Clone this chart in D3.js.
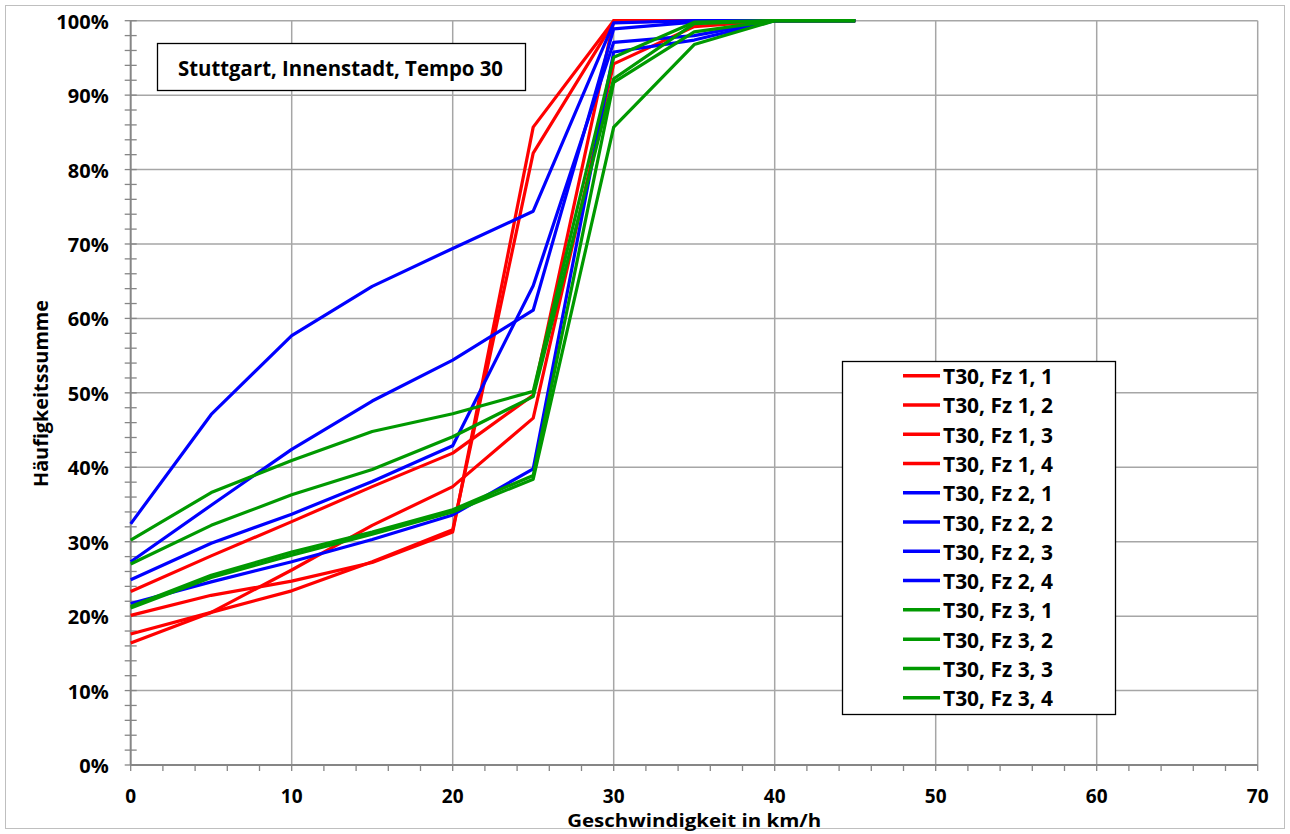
<!DOCTYPE html>
<html><head><meta charset="utf-8">
<script src="https://cdn.jsdelivr.net/npm/d3@7"></script>
<style>body{margin:0;background:#fff}svg{display:block}</style>
</head><body>
<script>
const speeds = [0, 5, 10, 15, 20, 25, 30, 35, 40, 45];
const seriesNames = ["T30, Fz 1, 1","T30, Fz 1, 2","T30, Fz 1, 3","T30, Fz 1, 4",
  "T30, Fz 2, 1","T30, Fz 2, 2","T30, Fz 2, 3","T30, Fz 2, 4",
  "T30, Fz 3, 1","T30, Fz 3, 2","T30, Fz 3, 3","T30, Fz 3, 4"];
const seriesColors = ["#ff0000","#ff0000","#ff0000","#ff0000","#0000ff","#0000ff","#0000ff","#0000ff","#009900","#009900","#009900","#009900"];
const fz1_1 = [23.3, 28.1, 32.7, 37.4, 41.9, 49.7, 100, 100, 100, 100];
const fz1_2 = [20.1, 22.8, 24.7, 27.2, 31.3, 85.7, 100, 100, 100, 100];
const fz1_3 = [17.6, 20.5, 26.2, 32.2, 37.4, 46.6, 94.2, 99.2, 100, 100];
const fz1_4 = [16.4, 20.5, 23.4, 27.3, 31.6, 82.2, 99.8, 100, 100, 100];
const fz2_1 = [32.4, 47.1, 57.7, 64.3, 69.4, 74.4, 99.7, 100, 100, 100];
const fz2_2 = [27.3, 34.9, 42.4, 48.9, 54.4, 61.1, 98.9, 99.8, 100, 100];
const fz2_3 = [24.9, 29.8, 33.7, 38.1, 42.9, 64.4, 97.1, 98.0, 100, 100];
const fz2_4 = [21.7, 24.6, 27.3, 30.3, 33.6, 39.8, 95.8, 97.4, 100, 100];
const fz3_1 = [30.2, 36.6, 40.9, 44.8, 47.2, 50.2, 95.1, 99.8, 100, 100];
const fz3_2 = [27.0, 32.2, 36.3, 39.7, 44.1, 49.5, 92.2, 99.6, 100, 100];
const fz3_3 = [21.3, 25.5, 28.6, 31.3, 34.3, 38.9, 91.7, 98.5, 100, 100];
const fz3_4 = [21.1, 25.2, 28.2, 31.0, 34.0, 38.4, 85.7, 96.8, 100, 100];
const allSeries = [fz1_1,fz1_2,fz1_3,fz1_4,fz2_1,fz2_2,fz2_3,fz2_4,fz3_1,fz3_2,fz3_3,fz3_4];
const xTicks = [0,10,20,30,40,50,60,70];
const yTicks = [0,10,20,30,40,50,60,70,80,90,100];
const titleText = "Stuttgart, Innenstadt, Tempo 30";
const xLabel = "Geschwindigkeit in km/h";
const yLabel = "Häufigkeitssumme";

const W = 1290, H = 834;
const L = 130.7, R = 1257.7, T = 20.7, B = 765;
const font = "'Open Sans', Lato, sans-serif";
const svg = d3.select("body").append("svg").attr("width", W).attr("height", H);
svg.append("rect").attr("x",5.5).attr("y",5.5).attr("width",W-11).attr("height",H-11)
  .attr("fill","#fff").attr("stroke","#bfbfbf").attr("stroke-width",1);

const x = d3.scaleLinear().domain([0,70]).range([L,R]);
const y = d3.scaleLinear().domain([0,100]).range([B,T]);

// grid
const g = svg.append("g");
g.selectAll(".vg").data(xTicks.slice(1)).join("line")
  .attr("x1",d=>x(d)).attr("x2",d=>x(d)).attr("y1",T).attr("y2",B)
  .attr("stroke","#a6a6a6").attr("stroke-width",1.5);
g.selectAll(".hg").data(yTicks.slice(1)).join("line")
  .attr("x1",L).attr("x2",R).attr("y1",d=>y(d)).attr("y2",d=>y(d))
  .attr("stroke","#a6a6a6").attr("stroke-width",1.5);

// axes
const xMinor = d3.range(0,71,2);
g.selectAll(".xm").data(xMinor).join("line")
  .attr("x1",d=>x(d)).attr("x2",d=>x(d)).attr("y1",B).attr("y2",B+6)
  .attr("stroke","#868686").attr("stroke-width",1.3);
const yMinor = d3.range(0,101,2);
g.selectAll(".ym").data(yMinor).join("line")
  .attr("x1",L-6).attr("x2",L+6).attr("y1",d=>y(d)).attr("y2",d=>y(d))
  .attr("stroke","#868686").attr("stroke-width",1.3);
g.append("line").attr("x1",L).attr("x2",R).attr("y1",B).attr("y2",B).attr("stroke","#868686").attr("stroke-width",2);
g.append("line").attr("x1",L).attr("x2",L).attr("y1",T).attr("y2",B).attr("stroke","#868686").attr("stroke-width",2);

g.selectAll(".xl").data(xTicks).join("text")
  .attr("x",d=>x(d)).attr("y",B+38).attr("text-anchor","middle")
  .attr("font-family",font).attr("font-weight","bold").attr("font-size",19).text(d=>d);
g.selectAll(".yl").data(yTicks).join("text")
  .attr("x",L-22).attr("y",d=>y(d)+8).attr("text-anchor","end")
  .attr("font-family",font).attr("font-weight","bold").attr("font-size",20).text(d=>d+"%");

svg.append("text").attr("x",(L+R)/2).attr("y",827).attr("text-anchor","middle")
  .attr("font-family",font).attr("font-weight","bold").attr("font-size",17.5)
  .attr("textLength",254).attr("lengthAdjust","spacingAndGlyphs").text(xLabel);
svg.append("text").attr("transform",`translate(48,${(300+487)/2}) rotate(-90)`).attr("text-anchor","middle")
  .attr("font-family",font).attr("font-weight","bold").attr("font-size",20)
  .attr("textLength",187).attr("lengthAdjust","spacingAndGlyphs").text(yLabel);

// lines
const line = d3.line().x((d,i)=>x(speeds[i])).y(d=>y(d));
svg.append("g").selectAll("path").data(allSeries).join("path")
  .attr("d",line).attr("fill","none")
  .attr("stroke",(d,i)=>seriesColors[i]).attr("stroke-width",3.2).attr("stroke-linejoin","round");

// title box
svg.append("rect").attr("x",157.5).attr("y",43.5).attr("width",368).attr("height",47)
  .attr("fill","#fff").attr("stroke","#000").attr("stroke-width",1.3);
svg.append("text").attr("x",340.5).attr("y",76).attr("text-anchor","middle")
  .attr("font-family",font).attr("font-weight","bold").attr("font-size",21)
  .attr("textLength",325).attr("lengthAdjust","spacingAndGlyphs").text(titleText);

// legend
const lg = svg.append("g");
lg.append("rect").attr("x",842.5).attr("y",361.5).attr("width",273).attr("height",353)
  .attr("fill","#fff").attr("stroke","#000").attr("stroke-width",1.3);
const rowY = i => 375.7 + i*29.27;
lg.selectAll(".ll").data(seriesNames).join("line")
  .attr("x1",903).attr("x2",940).attr("y1",(d,i)=>rowY(i)).attr("y2",(d,i)=>rowY(i))
  .attr("stroke",(d,i)=>seriesColors[i]).attr("stroke-width",3.5);
lg.selectAll(".lt").data(seriesNames).join("text")
  .attr("x",943).attr("y",(d,i)=>rowY(i)+8.5)
  .attr("font-family",font).attr("font-weight","bold").attr("font-size",21)
  .attr("textLength",110).attr("lengthAdjust","spacingAndGlyphs").text(d=>d);
</script>
</body></html>
